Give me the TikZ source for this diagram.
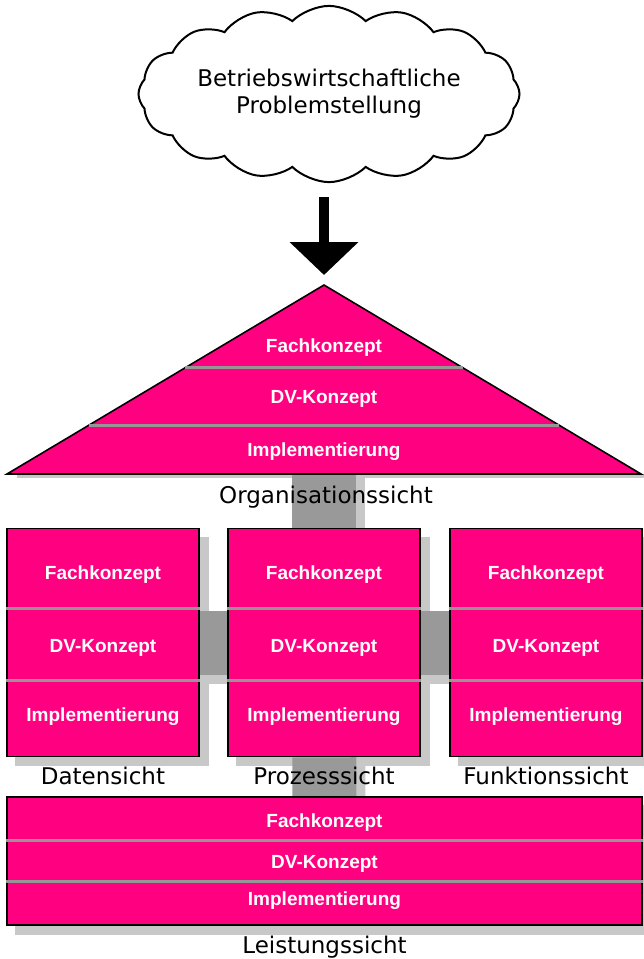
\documentclass[tikz,border=0pt]{standalone}
\usepackage{fontspec}
\setmainfont{Liberation Sans}
\newfontfamily\dejavu{DejaVu Sans}
\usetikzlibrary{arrows.meta,shapes.symbols,backgrounds,calc}
\definecolor{aris}{RGB}{255,0,128}
\definecolor{dunkelgrau}{RGB}{153,153,153}
\definecolor{hellgrau}{RGB}{200,200,200}
\definecolor{trenngrau}{RGB}{150,150,150}

\begin{document}
\begin{tikzpicture}[x=1pt,y=-1pt]
      \tikzstyle{sicht}=[rectangle,draw,line width=1.6pt,fill=aris,minimum width=192pt,minimum height=228pt,inner sep=0pt]
      \tikzstyle{ebene}=[text=white,font=\bfseries\fontsize{19}{19}\selectfont,anchor=base]
      \tikzstyle{titel}=[font=\dejavu\fontsize{23}{23}\selectfont,anchor=base]
      \tikzstyle{trenn}=[trenngrau,line width=3pt]
      \tikzstyle{verbinder}=[dunkelgrau,line width=64pt]
      \tikzstyle{schatten}=[fill=hellgrau]
      \tikzstyle{pfeil}=[line width=10pt,-{Triangle[width=67pt,length=33pt]}]
      \useasboundingbox (0,0) rectangle (643,959);
      % Problemstellung
      \node[cloud,draw,line width=2pt,cloud puffs=16,cloud puff arc=90,aspect=2.5,inner sep=0pt,minimum width=381pt,minimum height=158pt,align=center,font=\dejavu\fontsize{23}{27}\selectfont](problem) at (329,94){Betriebswirtschaftliche\\Problemstellung};
      % Organisationssicht
      \draw[fill=aris,line width=1.6pt](7,474) coordinate (org-links) -- (324,285) coordinate (org-spitze) -- (641,474) coordinate (org-rechts) -- cycle;
      \coordinate (org-basis) at (324,474);
      \draw[trenn]($(org-links)!0.561!(org-spitze)$) -- ($(org-rechts)!0.561!(org-spitze)$);
      \draw[trenn]($(org-links)!0.259!(org-spitze)$) -- ($(org-rechts)!0.259!(org-spitze)$);
      \node[ebene](org-fach) at (324,352){Fachkonzept};
      \node[ebene](org-dv) at (324,403){DV-Konzept};
      \node[ebene](org-impl) at (324,456){Implementierung};
      \draw[pfeil,shorten <=14pt,shorten >=10pt](org-spitze |- problem.south) -- (org-spitze);
      % Daten-, Prozess-, Funktionssicht
      \foreach \n/\x/\t in {daten/103/Datensicht,prozess/324/Prozesssicht,funktion/546/Funktionssicht}{
        \node[sicht](\n) at (\x,642.5){};
        \draw[trenn]([yshift=-80.5pt]\n.north west) -- ([yshift=-80.5pt]\n.north east);
        \draw[trenn]([yshift=-152.5pt]\n.north west) -- ([yshift=-152.5pt]\n.north east);
        \node[ebene](\n-fach) at ([yshift=-51.5pt]\n.north){Fachkonzept};
        \node[ebene](\n-dv) at ([yshift=-124.5pt]\n.north){DV-Konzept};
        \node[ebene](\n-impl) at ([yshift=-193.5pt]\n.north){Implementierung};
        \node[titel](\n-titel) at ([yshift=-27.5pt]\n.south){\t};
      }
      % Leistungssicht
      \node[sicht,minimum width=635pt,minimum height=128pt](leistung) at (324.5,861){};
      \draw[trenn]([yshift=-44pt]leistung.north west) -- ([yshift=-44pt]leistung.north east);
      \draw[trenn]([yshift=-85pt]leistung.north west) -- ([yshift=-85pt]leistung.north east);
      \node[ebene](leistung-fach) at ([yshift=-31pt]leistung.north){Fachkonzept};
      \node[ebene](leistung-dv) at ([yshift=-72pt]leistung.north){DV-Konzept};
      \node[ebene](leistung-impl) at ([yshift=-109pt]leistung.north){Implementierung};
      \node[titel](leistung-titel) at ([yshift=-28pt]leistung.south){Leistungssicht};
      \begin{scope}[on background layer]
        \fill[schatten]([xshift=10pt]org-links) rectangle ([shift={(10,4)}]org-rechts);
        \foreach \n in {daten,prozess,funktion,leistung}
          \fill[schatten]([shift={(9,9)}]\n.north west) rectangle ([shift={(9,9)}]\n.south east);
        \draw[verbinder,hellgrau]([xshift=9pt]org-basis) -- ([xshift=9pt]prozess.center);
        \draw[verbinder,hellgrau]([xshift=9pt]prozess.center) -- ([xshift=9pt]leistung.center);
        \draw[verbinder,hellgrau]([yshift=-9pt]daten.center) -- ([yshift=-9pt]funktion.center);
        \draw[verbinder](org-basis) -- (prozess);
        \draw[verbinder](prozess) -- (leistung);
        \draw[verbinder](daten) -- (funktion);
      \end{scope}
      \node[titel](org-titel) at (326,503){Organisationssicht};
    \end{tikzpicture}
\end{document}
